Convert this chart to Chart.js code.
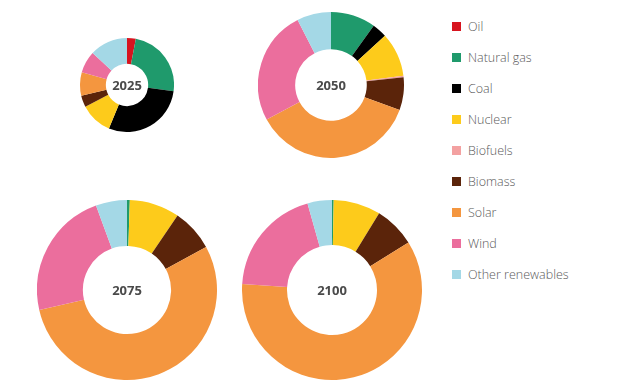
<!DOCTYPE html>
<html><head><meta charset="utf-8">
<script src="https://cdn.jsdelivr.net/npm/chart.js@4"></script>
<style>
html,body{margin:0;padding:0;background:#fff;width:640px;height:392px;overflow:hidden;position:relative;font-family:"Open Sans",sans-serif}
.wrap{position:absolute}
.wrap canvas{position:absolute;left:0;top:0}
.lbl{position:absolute;left:0;top:0;width:100%;height:100%;display:flex;align-items:center;justify-content:center;font-weight:700;color:#4a4a4a;font-size:13px;font-family:"Open Sans",sans-serif;pointer-events:none}
#legend{position:absolute;left:452px;top:18px}
.li{height:31px;display:flex;align-items:flex-start;font-size:12.5px;color:#5a5a5a;font-weight:300}
.sw{width:9px;height:9px;margin-top:4px;margin-right:7px}
</style></head><body>
<div id="legend"></div>
<script>
const categories = ['Oil','Natural gas','Coal','Nuclear','Biofuels','Biomass','Solar','Wind','Other renewables'];
const colors = ['#d7141f','#1f9a6c','#000000','#fdcb1b','#f3a1a1','#5b240a','#f4963f','#eb6e9d','#a4d8e6'];
const years = ['2025','2050','2075','2100'];
const share2025 = [3, 24, 29, 11, 0, 4, 8, 7.5, 13];
const share2050 = [0, 10, 3.3, 9.8, 0.3, 7.3, 36.8, 25.4, 7.6];
const share2075 = [0, 0.5, 0, 9, 0, 7.6, 54.4, 23, 5.6];
const share2100 = [0, 0.3, 0, 8.5, 0, 7.4, 60.1, 19.6, 4.4];
const shares = [share2025, share2050, share2075, share2100];

const layout = [
  {cx:127, cy:85, r:47, cut:'45%'},
  {cx:331, cy:85, r:73, cut:'49%'},
  {cx:127, cy:290, r:90, cut:'49%'},
  {cx:332, cy:290, r:90, cut:'50%'}
];

years.forEach((y, i) => {
  const L = layout[i];
  const d = document.createElement('div');
  d.className = 'wrap';
  const s = L.r * 2;
  d.style.left = (L.cx - L.r) + 'px';
  d.style.top = (L.cy - L.r) + 'px';
  d.style.width = s + 'px';
  d.style.height = s + 'px';
  const c = document.createElement('canvas');
  c.width = s; c.height = s;
  c.style.width = s + 'px'; c.style.height = s + 'px';
  d.appendChild(c);
  const t = document.createElement('div');
  t.className = 'lbl';
  t.textContent = y;
  d.appendChild(t);
  document.body.appendChild(d);
  new Chart(c, {
    type: 'doughnut',
    data: { labels: categories, datasets: [{ data: shares[i], backgroundColor: colors, borderWidth: 0 }] },
    options: {
      responsive: false, animation: false, cutout: L.cut,
      layout: { padding: 0 },
      plugins: { legend: { display: false }, tooltip: { enabled: false } }
    }
  });
});

const lg = document.getElementById('legend');
categories.forEach((name, i) => {
  const row = document.createElement('div');
  row.className = 'li';
  const sw = document.createElement('span');
  sw.className = 'sw';
  sw.style.background = colors[i];
  const tx = document.createElement('span');
  tx.textContent = name;
  row.appendChild(sw); row.appendChild(tx);
  lg.appendChild(row);
});
</script>
</body></html>
